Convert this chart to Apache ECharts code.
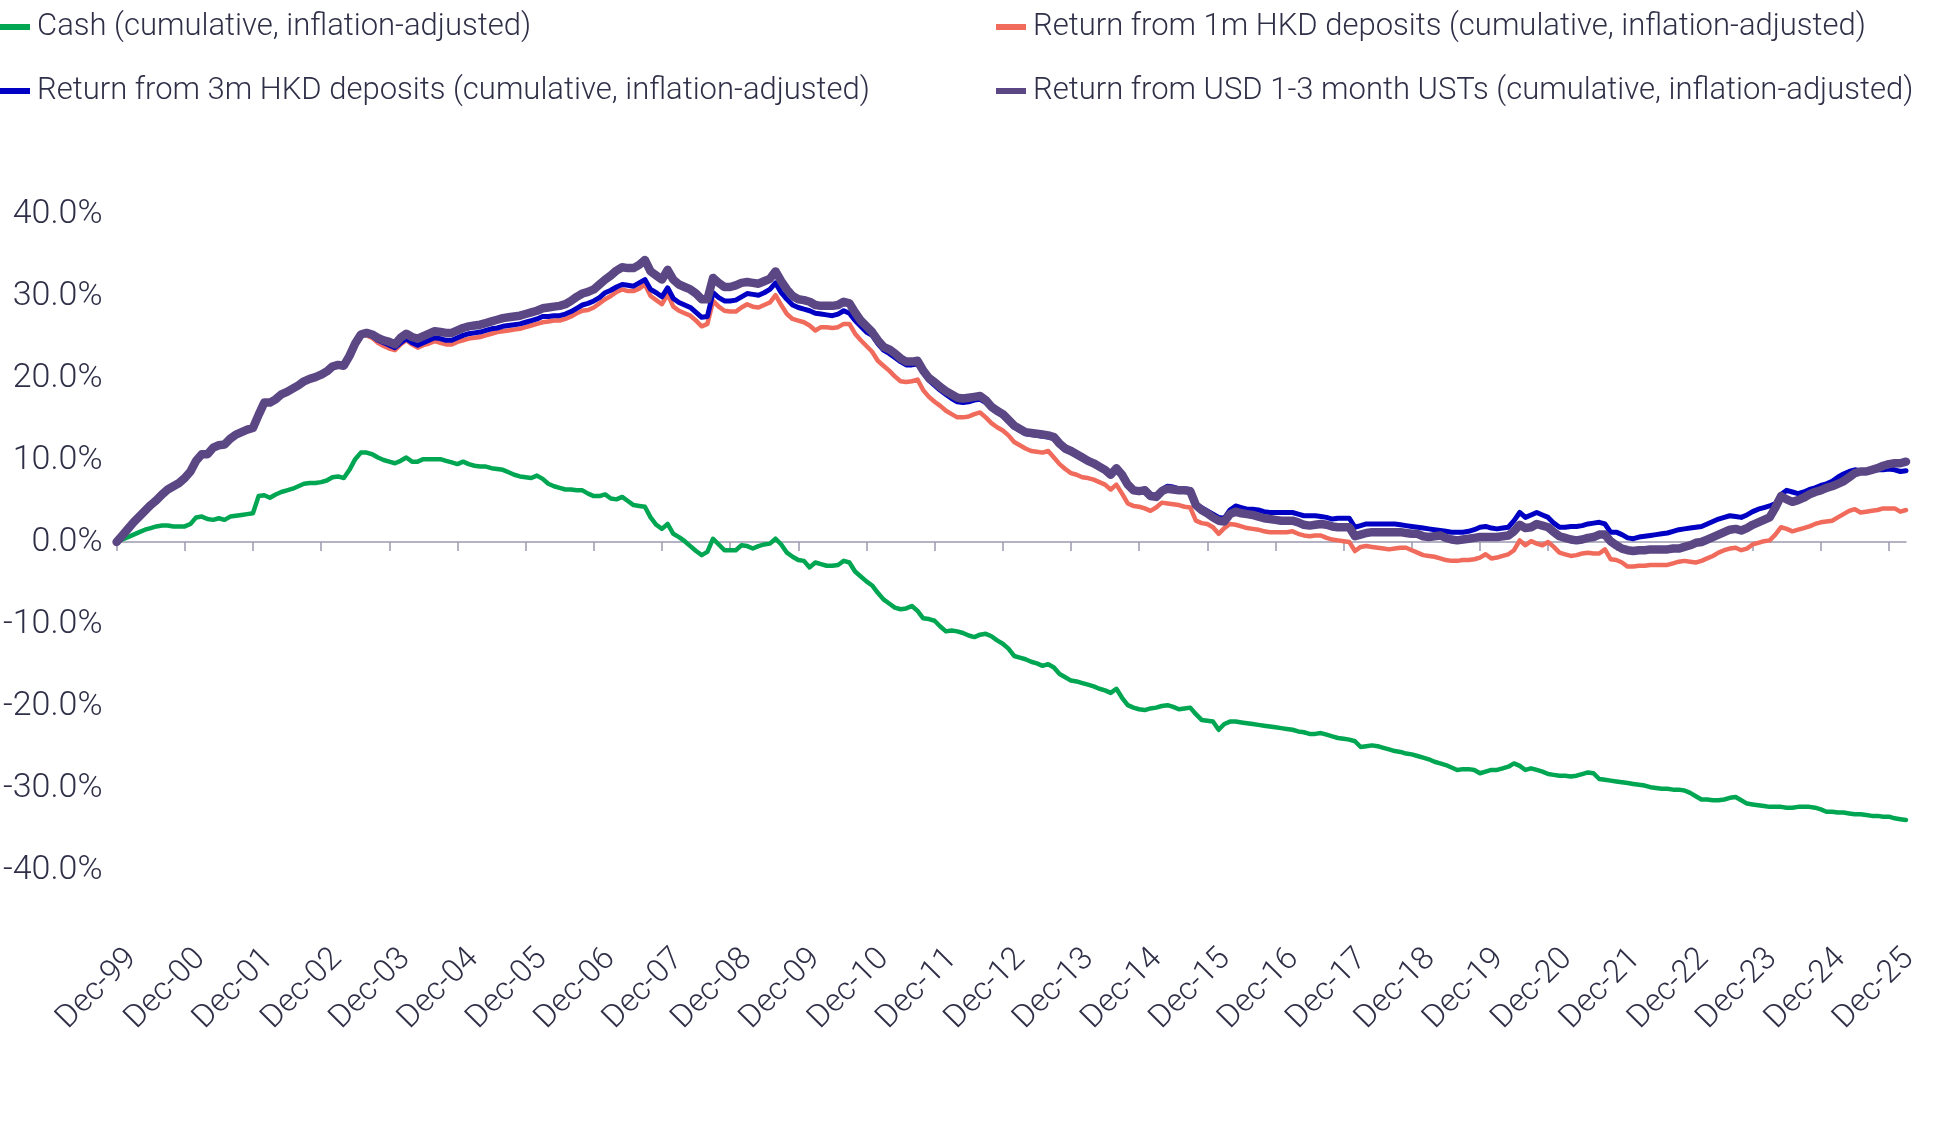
<!DOCTYPE html>
<html>
<head>
<meta charset="utf-8">
<script src="https://cdn.jsdelivr.net/npm/echarts@6/dist/echarts.min.js"></script>
<style>
  html, body { margin: 0; padding: 0; background: #fff; }
  #chart { width: 1938px; height: 1124px; }
</style>
</head>
<body>
<div id="chart"></div>
<script>
// tick labels, one per December
const tickLabels = ['Dec-99', 'Dec-00', 'Dec-01', 'Dec-02', 'Dec-03', 'Dec-04', 'Dec-05', 'Dec-06', 'Dec-07',
  'Dec-08', 'Dec-09', 'Dec-10', 'Dec-11', 'Dec-12', 'Dec-13', 'Dec-14', 'Dec-15', 'Dec-16', 'Dec-17',
  'Dec-18', 'Dec-19', 'Dec-20', 'Dec-21', 'Dec-22', 'Dec-23', 'Dec-24', 'Dec-25']

const seriesNames = [
  'Cash (cumulative, inflation-adjusted)',
  'Return from 1m HKD deposits (cumulative, inflation-adjusted)',
  'Return from 3m HKD deposits (cumulative, inflation-adjusted)',
  'Return from USD 1-3 month USTs (cumulative, inflation-adjusted)'
]

// monthly values in %, Dec-99 .. Mar-26 (one row per calendar year)
const cash = [0,
  0.3, 0.6, 0.9, 1.2, 1.5, 1.7, 1.9, 2.0, 2.0, 1.9, 1.9, 1.9,
  2.2, 3.0, 3.1, 2.8, 2.7, 2.9, 2.7, 3.1, 3.2, 3.3, 3.4, 3.5,
  5.6, 5.7, 5.4, 5.8, 6.1, 6.3, 6.5, 6.8, 7.1, 7.2, 7.2, 7.3,
  7.5, 7.9, 8.0, 7.8, 8.8, 10.1, 10.9, 10.9, 10.7, 10.3, 10.0, 9.8,
  9.6, 9.9, 10.3, 9.8, 9.8, 10.1, 10.1, 10.1, 10.1, 9.9, 9.7, 9.5,
  9.8, 9.5, 9.3, 9.2, 9.2, 9.0, 8.9, 8.8, 8.5, 8.2, 8.0, 7.9,
  7.8, 8.1, 7.7, 7.1, 6.8, 6.6, 6.4, 6.4, 6.3, 6.3, 5.9, 5.6,
  5.6, 5.8, 5.3, 5.2, 5.5, 5.0, 4.5, 4.4, 4.3, 3.0, 2.1, 1.6,
  2.2, 1.0, 0.6, 0.1, -0.5, -1.1, -1.6, -1.2, 0.4, -0.3, -1.0, -1.0,
  -1.0, -0.4, -0.5, -0.8, -0.5, -0.3, -0.2, 0.4, -0.3, -1.3, -1.8, -2.2,
  -2.3, -3.1, -2.5, -2.7, -2.9, -2.9, -2.8, -2.3, -2.5, -3.6, -4.2, -4.8,
  -5.3, -6.2, -7.0, -7.5, -8.0, -8.2, -8.1, -7.8, -8.4, -9.3, -9.4, -9.6,
  -10.3, -10.9, -10.8, -10.9, -11.1, -11.4, -11.6, -11.3, -11.2, -11.5, -12.0, -12.4,
  -13.0, -13.9, -14.1, -14.3, -14.6, -14.8, -15.1, -14.9, -15.3, -16.1, -16.5, -16.9,
  -17.0, -17.2, -17.4, -17.6, -17.9, -18.1, -18.4, -17.9, -19.0, -19.9, -20.2, -20.4,
  -20.5, -20.3, -20.2, -20.0, -19.9, -20.1, -20.4, -20.3, -20.2, -21.0, -21.7, -21.8,
  -21.9, -22.9, -22.2, -21.9, -21.9, -22.0, -22.1, -22.2, -22.3, -22.4, -22.5, -22.6,
  -22.7, -22.8, -22.9, -23.1, -23.2, -23.4, -23.4, -23.3, -23.5, -23.7, -23.9, -24.0,
  -24.1, -24.3, -25.0, -24.9, -24.8, -24.9, -25.1, -25.3, -25.5, -25.6, -25.8, -25.9,
  -26.1, -26.3, -26.5, -26.8, -27.0, -27.2, -27.5, -27.8, -27.7, -27.7, -27.8, -28.2,
  -28.0, -27.8, -27.8, -27.6, -27.4, -27.0, -27.3, -27.8, -27.6, -27.8, -28.0, -28.3,
  -28.4, -28.5, -28.5, -28.6, -28.5, -28.3, -28.1, -28.2, -28.9, -29.0, -29.1, -29.2,
  -29.3, -29.4, -29.5, -29.6, -29.7, -29.9, -30.0, -30.1, -30.1, -30.2, -30.2, -30.3,
  -30.6, -31.0, -31.4, -31.4, -31.5, -31.5, -31.4, -31.2, -31.1, -31.5, -31.9, -32.0,
  -32.1, -32.2, -32.3, -32.3, -32.3, -32.4, -32.4, -32.3, -32.3, -32.3, -32.4, -32.6,
  -32.9, -32.9, -33.0, -33.0, -33.1, -33.2, -33.2, -33.3, -33.4, -33.4, -33.5, -33.5,
  -33.7, -33.8, -33.9]

const hkd1m = [0,
  0.8, 1.6, 2.4, 3.1, 3.8, 4.5, 5.1, 5.8, 6.4, 6.8, 7.2, 7.8,
  8.6, 9.9, 10.7, 10.7, 11.5, 11.8, 11.9, 12.6, 13.1, 13.4, 13.7, 13.9,
  15.5, 17.0, 17.0, 17.4, 18.0, 18.3, 18.7, 19.1, 19.6, 19.9, 20.1, 20.4,
  20.8, 21.4, 21.6, 21.5, 22.7, 24.2, 25.2, 25.2, 24.9, 24.3, 23.9, 23.6,
  23.4, 24.1, 24.6, 24.1, 23.7, 24.0, 24.2, 24.5, 24.3, 24.1, 24.1, 24.4,
  24.6, 24.8, 24.9, 25.0, 25.2, 25.4, 25.6, 25.7, 25.8, 25.9, 26.0, 26.2,
  26.4, 26.6, 26.8, 26.9, 27.0, 27.0, 27.2, 27.5, 27.9, 28.2, 28.3, 28.6,
  29.1, 29.6, 30.0, 30.5, 30.8, 30.6, 30.6, 30.9, 31.4, 30.0, 29.5, 29.0,
  30.2, 28.7, 28.2, 27.9, 27.6, 27.0, 26.3, 26.6, 29.4, 28.7, 28.2, 28.1,
  28.1, 28.6, 29.0, 28.7, 28.6, 28.9, 29.2, 30.1, 28.9, 27.8, 27.2, 27.0,
  26.8, 26.4, 25.8, 26.2, 26.2, 26.1, 26.2, 26.6, 26.6, 25.4, 24.6, 23.9,
  23.2, 22.1, 21.5, 20.9, 20.2, 19.6, 19.5, 19.6, 19.8, 18.5, 17.7, 17.1,
  16.6, 16.0, 15.6, 15.2, 15.2, 15.3, 15.6, 15.8, 15.2, 14.5, 14.0, 13.6,
  13.0, 12.2, 11.8, 11.4, 11.1, 11.0, 10.9, 11.1, 10.3, 9.5, 8.9, 8.4,
  8.2, 7.9, 7.8, 7.6, 7.3, 7.0, 6.4, 7.0, 5.9, 4.7, 4.4, 4.3,
  4.1, 3.8, 4.2, 4.8, 4.7, 4.6, 4.5, 4.3, 4.2, 2.6, 2.3, 2.2,
  1.8, 1.0, 1.7, 2.2, 2.1, 1.9, 1.7, 1.6, 1.5, 1.3, 1.2, 1.2,
  1.2, 1.2, 1.3, 1.0, 0.8, 0.7, 0.8, 0.8, 0.5, 0.3, 0.2, 0.1,
  0.0, -1.1, -0.6, -0.5, -0.6, -0.7, -0.8, -0.9, -0.8, -0.7, -0.7, -1.0,
  -1.3, -1.6, -1.7, -1.8, -2.0, -2.2, -2.3, -2.3, -2.2, -2.2, -2.1, -1.9,
  -1.5, -2.0, -1.9, -1.7, -1.5, -1.0, 0.2, -0.4, 0.1, -0.2, -0.4, 0.0,
  -0.6, -1.3, -1.5, -1.7, -1.6, -1.4, -1.3, -1.4, -1.4, -0.9, -2.1, -2.2,
  -2.5, -3.0, -3.0, -2.9, -2.9, -2.8, -2.8, -2.8, -2.8, -2.6, -2.4, -2.3,
  -2.4, -2.5, -2.3, -2.0, -1.7, -1.3, -1.0, -0.8, -0.7, -1.0, -0.8, -0.3,
  -0.1, 0.1, 0.2, 0.9, 1.8, 1.6, 1.3, 1.5, 1.7, 1.9, 2.2, 2.4,
  2.5, 2.6, 3.0, 3.4, 3.8, 4.0, 3.6, 3.7, 3.8, 3.9, 4.1, 4.1,
  4.1, 3.7, 3.9]

const hkd3m = [0,
  0.8, 1.6, 2.4, 3.1, 3.8, 4.5, 5.1, 5.8, 6.4, 6.8, 7.2, 7.8,
  8.6, 9.9, 10.7, 10.7, 11.5, 11.8, 11.9, 12.6, 13.1, 13.4, 13.7, 13.9,
  15.5, 17.0, 17.0, 17.4, 18.0, 18.3, 18.7, 19.1, 19.6, 19.9, 20.1, 20.4,
  20.8, 21.4, 21.6, 21.5, 22.7, 24.2, 25.3, 25.4, 25.1, 24.6, 24.3, 24.0,
  23.7, 24.3, 24.8, 24.3, 24.0, 24.3, 24.6, 24.9, 24.8, 24.6, 24.6, 24.9,
  25.2, 25.4, 25.5, 25.6, 25.8, 26.0, 26.1, 26.3, 26.4, 26.5, 26.6, 26.8,
  27.0, 27.2, 27.5, 27.5, 27.6, 27.6, 27.8, 28.1, 28.5, 28.9, 29.1, 29.4,
  29.8, 30.4, 30.7, 31.1, 31.4, 31.3, 31.2, 31.6, 32.0, 30.8, 30.4, 29.9,
  31.0, 29.7, 29.2, 28.9, 28.6, 28.0, 27.4, 27.5, 30.4, 29.8, 29.4, 29.4,
  29.5, 29.9, 30.3, 30.2, 30.1, 30.4, 30.8, 31.6, 30.4, 29.6, 28.9, 28.6,
  28.4, 28.2, 27.9, 27.8, 27.7, 27.6, 27.8, 28.2, 27.9, 27.0, 26.3, 25.6,
  25.2, 24.2, 23.4, 23.0, 22.5, 22.0, 21.6, 21.6, 21.7, 20.6, 19.7, 19.1,
  18.5, 18.0, 17.5, 17.1, 17.0, 17.1, 17.3, 17.4, 17.0, 16.3, 15.8, 15.4,
  14.7, 14.0, 13.6, 13.2, 13.1, 13.0, 12.9, 12.8, 12.6, 11.8, 11.2, 10.9,
  10.6, 10.2, 9.8, 9.5, 9.1, 8.7, 8.1, 8.9, 8.1, 7.0, 6.4, 6.3,
  6.5, 5.8, 5.7, 6.4, 6.8, 6.7, 6.5, 6.5, 6.4, 4.6, 4.2, 3.8,
  3.4, 3.0, 2.9, 3.9, 4.4, 4.2, 4.0, 4.0, 3.9, 3.7, 3.6, 3.6,
  3.6, 3.6, 3.6, 3.4, 3.2, 3.2, 3.2, 3.1, 3.0, 2.8, 2.9, 2.9,
  2.9, 1.8, 2.0, 2.2, 2.2, 2.2, 2.2, 2.2, 2.2, 2.1, 2.0, 1.9,
  1.8, 1.7, 1.6, 1.5, 1.4, 1.3, 1.2, 1.2, 1.2, 1.3, 1.5, 1.8,
  1.9, 1.7, 1.6, 1.7, 1.8, 2.6, 3.6, 3.0, 3.3, 3.6, 3.3, 3.0,
  2.3, 1.8, 1.8, 1.9, 1.9, 2.0, 2.2, 2.3, 2.4, 2.2, 1.2, 1.2,
  0.9, 0.5, 0.4, 0.6, 0.7, 0.8, 0.9, 1.0, 1.1, 1.3, 1.5, 1.6,
  1.7, 1.8, 1.9, 2.2, 2.5, 2.8, 3.0, 3.2, 3.1, 3.0, 3.3, 3.7,
  4.0, 4.2, 4.4, 4.7, 5.8, 6.3, 6.1, 5.9, 6.1, 6.4, 6.6, 6.9,
  7.1, 7.4, 7.9, 8.3, 8.6, 8.8, 8.7, 8.7, 8.7, 8.8, 8.8, 8.9,
  8.8, 8.6, 8.7]

const usdUst = [0,
  0.8, 1.6, 2.4, 3.1, 3.8, 4.5, 5.1, 5.8, 6.4, 6.8, 7.2, 7.8,
  8.6, 9.9, 10.7, 10.7, 11.5, 11.8, 11.9, 12.6, 13.1, 13.4, 13.7, 13.9,
  15.5, 17.0, 17.0, 17.4, 18.0, 18.3, 18.7, 19.1, 19.6, 19.9, 20.1, 20.4,
  20.8, 21.4, 21.6, 21.5, 22.7, 24.2, 25.3, 25.5, 25.3, 24.9, 24.6, 24.4,
  24.1, 24.9, 25.4, 25.0, 24.8, 25.1, 25.4, 25.7, 25.6, 25.5, 25.5, 25.8,
  26.1, 26.3, 26.4, 26.5, 26.7, 26.9, 27.1, 27.3, 27.4, 27.5, 27.6, 27.8,
  28.0, 28.2, 28.5, 28.6, 28.7, 28.8, 29.0, 29.4, 29.9, 30.3, 30.5, 30.8,
  31.4, 32.0, 32.5, 33.1, 33.5, 33.4, 33.4, 33.8, 34.4, 33.0, 32.5, 32.0,
  33.2, 32.0, 31.4, 31.1, 30.8, 30.3, 29.6, 29.6, 32.2, 31.6, 31.1, 31.1,
  31.3, 31.6, 31.7, 31.6, 31.5, 31.8, 32.1, 33.0, 31.8, 30.8, 30.0, 29.6,
  29.5, 29.3, 28.9, 28.8, 28.8, 28.8, 28.9, 29.3, 29.1, 28.0, 27.0, 26.3,
  25.6, 24.6, 23.8, 23.5, 23.0, 22.4, 22.0, 22.0, 22.1, 20.9, 20.0, 19.5,
  18.9, 18.4, 18.0, 17.6, 17.5, 17.6, 17.7, 17.8, 17.3, 16.5, 16.0, 15.6,
  14.9, 14.2, 13.8, 13.4, 13.3, 13.2, 13.1, 13.0, 12.8, 12.0, 11.4, 11.1,
  10.7, 10.3, 9.9, 9.6, 9.2, 8.8, 8.2, 9.0, 8.2, 7.0, 6.3, 6.2,
  6.3, 5.6, 5.5, 6.2, 6.5, 6.4, 6.3, 6.3, 6.2, 4.5, 3.9, 3.5,
  3.0, 2.6, 2.5, 3.4, 3.7, 3.5, 3.4, 3.3, 3.1, 2.9, 2.8, 2.7,
  2.6, 2.6, 2.6, 2.4, 2.1, 2.0, 2.1, 2.2, 2.1, 1.9, 1.8, 1.8,
  1.8, 0.7, 0.9, 1.1, 1.2, 1.2, 1.2, 1.2, 1.2, 1.2, 1.1, 1.0,
  1.0, 0.7, 0.6, 0.7, 0.8, 0.5, 0.3, 0.2, 0.3, 0.4, 0.5, 0.6,
  0.6, 0.6, 0.6, 0.7, 0.8, 1.3, 2.1, 1.7, 1.8, 2.2, 2.0, 1.8,
  1.2, 0.7, 0.5, 0.3, 0.2, 0.3, 0.5, 0.6, 0.9, 0.9, 0.1, -0.4,
  -0.8, -1.0, -1.1, -1.0, -1.0, -0.9, -0.9, -0.9, -0.9, -0.8, -0.8, -0.6,
  -0.4, -0.1, 0.0, 0.3, 0.6, 0.9, 1.2, 1.5, 1.6, 1.4, 1.7, 2.1,
  2.4, 2.7, 3.0, 4.2, 5.6, 5.2, 4.9, 5.1, 5.4, 5.8, 6.1, 6.3,
  6.6, 6.8, 7.1, 7.4, 7.9, 8.4, 8.6, 8.6, 8.8, 9.0, 9.3, 9.5,
  9.6, 9.6, 9.8]

const lineColors = ['#00a651', '#f06b5b', '#0000c4', '#5c4785']
const lineWidths = [4.5, 4.5, 5, 8.5]

// monthly category labels, starting Dec-99
const monthNames = ['Jan', 'Feb', 'Mar', 'Apr', 'May', 'Jun', 'Jul', 'Aug', 'Sep', 'Oct', 'Nov', 'Dec']
const months = cash.map((v, i) => {
  const n = 11 + i
  const yr = (1999 + Math.floor(n / 12)) % 100
  return monthNames[n % 12] + '-' + String(yr).padStart(2, '0')
})

const textColor = '#2f2f48'
const axisColor = '#9b9bb0'
const fontFamily = 'Roboto, "Open Sans", sans-serif'

const chart = echarts.init(document.getElementById('chart'))

const legendSlots = [
  { left: 0, top: 10 },
  { left: 996, top: 10 },
  { left: 0, top: 74 },
  { left: 996, top: 74 }
]

const isDec = index => index % 12 === 0

const option = {
  animation: false,
  backgroundColor: '#fff',
  legend: seriesNames.map((name, i) => ({
    data: [name],
    left: legendSlots[i].left,
    top: legendSlots[i].top,
    padding: 0,
    icon: 'rect',
    itemWidth: 30,
    itemHeight: 6,
    selectedMode: false,
    textStyle: {
      fontFamily,
      fontWeight: 300,
      fontSize: 31,
      lineHeight: 34,
      color: textColor,
      padding: [0, 0, 0, 2]
    }
  })),
  grid: [
    { left: 112, right: 32, top: 214, bottom: 254 },
    // label-only grid, nudged right like the original's rotated labels
    { left: 132, right: 12, top: 214, bottom: 254 }
  ],
  xAxis: [
    {
      type: 'category',
      gridIndex: 0,
      data: months,
      boundaryGap: false,
      axisLine: { onZero: true, lineStyle: { color: axisColor, width: 1.5 } },
      axisTick: { interval: isDec, length: 9, lineStyle: { color: axisColor, width: 1.5 } },
      axisLabel: { show: false },
      splitLine: { show: false }
    },
    {
      type: 'category',
      gridIndex: 1,
      data: months,
      boundaryGap: false,
      position: 'bottom',
      axisLine: { show: false, onZero: false },
      axisTick: { show: false },
      splitLine: { show: false },
      axisLabel: {
        interval: isDec,
        rotate: 45,
        margin: 84,
        fontFamily,
        fontWeight: 300,
        fontSize: 32,
        color: textColor,
        formatter: (v, i) => tickLabels[i / 12]
      }
    }
  ],
  yAxis: [
    {
      type: 'value',
      gridIndex: 0,
      min: -40,
      max: 40,
      interval: 10,
      axisLine: { show: false },
      axisTick: { show: false },
      splitLine: { show: false },
      axisLabel: {
        margin: 14,
        fontFamily,
        fontWeight: 300,
        fontSize: 34,
        color: textColor,
        formatter: v => v.toFixed(1) + '%'
      }
    },
    { type: 'value', gridIndex: 1, min: -40, max: 40, show: false }
  ],
  series: [cash, hkd1m, hkd3m, usdUst].map((data, i) => ({
    name: seriesNames[i],
    type: 'line',
    xAxisIndex: 0,
    yAxisIndex: 0,
    data,
    showSymbol: false,
    symbol: 'none',
    color: lineColors[i],
    lineStyle: { color: lineColors[i], width: lineWidths[i], join: 'round', cap: 'round' }
  }))
}

chart.setOption(option)
</script>
</body>
</html>
